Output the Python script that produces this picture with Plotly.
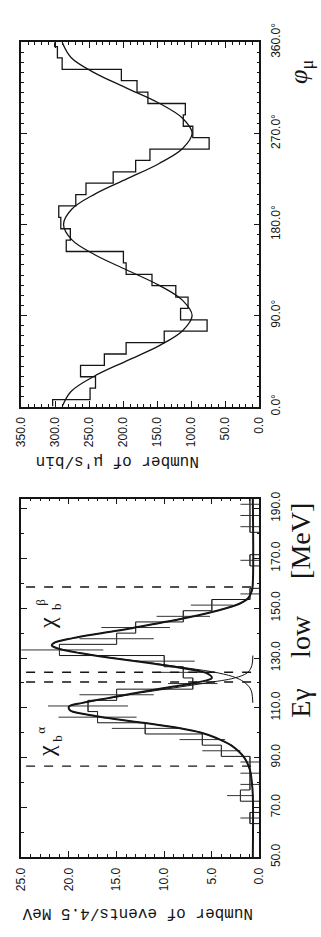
import plotly.graph_objects as go

W, H = 321, 937

# ---------------- top panel: phi_mu distribution ----------------
phi_edges = [0, 7, 18.25, 29.5, 40.75, 52, 63.25, 74.5, 85.75, 97, 108.25, 119.5,
             130.75, 142, 153.25, 164.5, 175.75, 187, 198.25, 209.5, 220.75, 232,
             243.25, 254.5, 265.75, 277, 288.25, 299.5, 310.75, 322, 333.25, 344.5,
             355.75, 360]
mu_counts = [304, 249, 241, 263, 228, 196, 140, 77, 116, 105, 123, 158, 196, 200,
             284, 278, 292, 295, 270, 255, 215, 182, 161, 74, 98, 112, 109, 164,
             180, 203, 290, 297, 301]
phi_fit = [0, 15, 30, 45, 60, 75, 90, 105, 120, 135, 150, 165, 180, 195, 210, 225,
           240, 255, 270, 285, 300, 315, 330, 345, 360]
mu_fit = [290, 277, 243, 196, 148, 113, 99, 113, 148, 195, 242, 276, 288, 276, 242,
          195, 148, 113, 99, 113, 148, 196, 243, 277, 290]
mu_ticks = [0, 50, 100, 150, 200, 250, 300, 350]
phi_ticks = [0, 90, 180, 270, 360]

# ---------------- bottom panel: E_gamma spectrum ----------------
eg_edges = [50 + 4.5 * i for i in range(33)]
ev_counts = [0, 0, 0, 1, 0, 2, 1, 1, 1, 4, 6, 12, 17, 18, 15, 7, 8, 10, 21, 15, 13,
             8, 5, 1, 0, 0, 1, 0, 0, 1, 1, 1]
ev_errors = [0, 0, 0, 1, 0, 1.4, 1, 1, 1, 2, 2.4, 3.5, 4.1, 4.2, 3.9, 2.6, 2.8, 3.2,
             4.6, 3.9, 3.6, 2.8, 2.2, 1, 0, 0, 1, 0, 0, 1, 1, 1]
sum_E = [50, 75, 80, 85, 90, 95, 98, 100, 102, 104, 106, 107.5, 109, 110.5, 112, 114,
         116, 118, 120, 122, 124, 126, 128, 130, 132, 134, 135, 136, 138, 140, 142,
         144, 146, 148, 150, 152, 154, 157, 160, 194]
sum_N = [0.7, 0.7, 0.8, 1.0, 1.6, 3.0, 4.6, 6.1, 8.6, 12.2, 16.1, 18.4, 19.9, 20.0,
         18.6, 15.8, 13.0, 10.0, 6.8, 5.0, 5.6, 8.2, 11.6, 15.5, 18.9, 21.3, 21.8,
         21.6, 19.6, 16.6, 13.4, 10.6, 7.9, 5.5, 3.5, 2.0, 1.2, 0.8, 0.7, 0.7]
alpha_E = [80, 85, 90, 95, 98, 100, 102, 104, 106, 107.5, 109, 110.5, 112, 114, 116,
           118, 120, 122, 124, 126, 128, 131]
alpha_N = [0.8, 1.0, 1.6, 3.0, 4.6, 6.1, 8.6, 12.2, 16.1, 18.4, 19.9, 20.0, 18.5,
           15.5, 12.5, 9.0, 5.6, 2.6, 1.3, 0.9, 0.75, 0.7]
beta_E = [112, 116, 118, 120, 122, 124, 126, 128, 130, 132, 134, 135, 136, 138, 140,
          142, 144, 146, 148, 150, 152, 154, 157, 160]
beta_N = [0.7, 0.8, 1.0, 1.5, 2.4, 4.3, 7.6, 11.3, 15.3, 18.8, 21.2, 21.8, 21.6,
          19.6, 16.6, 13.4, 10.6, 7.9, 5.5, 3.5, 2.0, 1.2, 0.8, 0.7]
cut_E = [86.6, 120.4, 124.3, 158.5]
ev_ticks = [0, 5, 10, 15, 20, 25]
eg_ticks = [50, 70, 90, 110, 130, 150, 170, 190]

INK = "#151515"


def steps(edges, counts):
    xs, ys = [], []
    for i, c in enumerate(counts):
        xs += [c, c]
        ys += [edges[i], edges[i + 1]]
    return xs, ys


fig = go.Figure()

# top histogram + fit
hx, hy = steps(phi_edges, mu_counts)
fig.add_trace(go.Scatter(x=hx, y=hy, mode="lines", line=dict(color=INK, width=1.3),
                         xaxis="x", yaxis="y", showlegend=False))
fig.add_trace(go.Scatter(x=mu_fit, y=phi_fit, mode="lines", line_shape="spline",
                         line=dict(color=INK, width=1.3), xaxis="x", yaxis="y",
                         showlegend=False))

# bottom histogram
bx, by = steps(eg_edges, ev_counts)
fig.add_trace(go.Scatter(x=bx, y=by, mode="lines", line=dict(color=INK, width=1),
                         xaxis="x2", yaxis="y2", showlegend=False))
centers = [(eg_edges[i] + eg_edges[i + 1]) / 2 for i in range(len(ev_counts))]
ex = [c for c in ev_counts if c > 0]
ey = [centers[i] for i, c in enumerate(ev_counts) if c > 0]
ee = [ev_errors[i] for i, c in enumerate(ev_counts) if c > 0]
fig.add_trace(go.Scatter(x=ex, y=ey, mode="markers",
                         marker=dict(size=1, color="rgba(0,0,0,0)"),
                         error_x=dict(type="data", array=ee, visible=True, width=0,
                                      thickness=1, color="#333"),
                         error_y=dict(type="constant", value=2.25, visible=True,
                                      width=0, thickness=1, color="#333"),
                         xaxis="x2", yaxis="y2", showlegend=False))
# fits
fig.add_trace(go.Scatter(x=alpha_N, y=alpha_E, mode="lines", line_shape="spline",
                         line=dict(color=INK, width=1), xaxis="x2", yaxis="y2",
                         showlegend=False))
fig.add_trace(go.Scatter(x=beta_N, y=beta_E, mode="lines", line_shape="spline",
                         line=dict(color=INK, width=1), xaxis="x2", yaxis="y2",
                         showlegend=False))
fig.add_trace(go.Scatter(x=sum_N, y=sum_E, mode="lines", line_shape="spline",
                         line=dict(color=INK, width=2), xaxis="x2", yaxis="y2",
                         showlegend=False))

shapes = []
for e in cut_E:
    shapes.append(dict(type="line", xref="x2", yref="y2", x0=24.5, x1=0.3, y0=e, y1=e,
                       line=dict(color=INK, width=1.4, dash="dash")))

tickfont = dict(family="Liberation Sans", size=12, color=INK)


def count_axis(dom, rng, ticks, anchor, minor_dt):
    return dict(domain=dom, range=rng, anchor=anchor, tickvals=ticks,
                ticktext=[f"{t:.1f}" for t in ticks], tickangle=-90,
                ticks="inside", ticklen=6, tickwidth=1, tickcolor=INK,
                minor=dict(dtick=minor_dt, ticks="inside", ticklen=3, tickwidth=1,
                           tickcolor=INK, showgrid=False),
                showline=True, linecolor=INK, linewidth=1.5, mirror="allticks",
                showgrid=False, zeroline=False, tickfont=tickfont,
                ticklabelstandoff=4)


def ind_axis(dom, rng, ticks, anchor, minor_dt, suffix=""):
    return dict(domain=dom, range=rng, anchor=anchor, side="right", tickvals=ticks,
                ticktext=[f"{t:.1f}{suffix}" for t in ticks], tickangle=-90,
                ticks="inside", ticklen=6, tickwidth=1, tickcolor=INK,
                minor=dict(dtick=minor_dt, ticks="inside", ticklen=3, tickwidth=1,
                           tickcolor=INK, showgrid=False),
                showline=True, linecolor=INK, linewidth=1.5, mirror="allticks",
                showgrid=False, zeroline=False, tickfont=tickfont,
                ticklabelstandoff=4)


xdom = [15 / W, 264 / W]
fig.update_layout(
    width=W, height=H, margin=dict(l=0, r=0, t=0, b=0),
    paper_bgcolor="white", plot_bgcolor="white",
    xaxis=count_axis(xdom, [350, 0], mu_ticks, "y", 10),
    yaxis=ind_axis([1 - 400 / H, 1 - 24 / H], [0, 360], phi_ticks, "x", 10, "°"),
    xaxis2=count_axis(xdom, [25, 0], ev_ticks, "y2", 1),
    yaxis2=ind_axis([1 - 865 / H, 1 - 495 / H], [50, 194], eg_ticks, "x2", 10),
    shapes=shapes,
)


def ann(text, px, py, size, angle, family="Liberation Serif"):
    fig.add_annotation(text=text, x=px / W, y=1 - py / H, xref="paper", yref="paper",
                       showarrow=False, textangle=angle, xanchor="center",
                       yanchor="middle",
                       font=dict(family=family, size=size, color=INK))


ann("Number of events/4.5 MeV", 137, 922, 16, 180, "Liberation Mono")
ann("Number of μ's/bin", 115, 456, 16, 180, "Liberation Mono")
ann("Eγ", 307, 706, 28, -90)
ann("low", 307, 637, 28, -90)
ann("[MeV]", 307, 539, 28, -90)
ann("<i>φ</i><sub>μ</sub>", 307, 55, 26, -90)
# chi_b labels
ann("χ", 40, 755, 24, -90)
ann("b", 52, 742, 13, -90)
ann("α", 35, 734, 13, -90)
ann("χ", 42, 623, 24, -90)
ann("b", 51, 606, 13, -90)
ann("β", 35, 602, 13, -90)

fig.write_html("out.html")
